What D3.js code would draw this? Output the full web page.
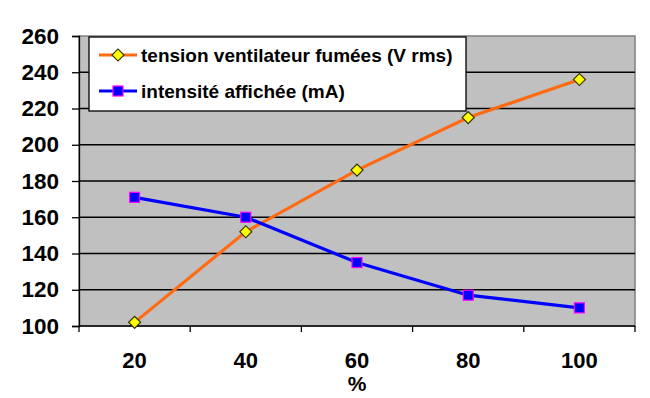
<!DOCTYPE html>
<html>
<head>
<meta charset="utf-8">
<script src="https://cdn.jsdelivr.net/npm/d3@7"></script>
<style>
  body { margin: 0; background: #fff; }
  text { font-family: "Liberation Sans", Arial, sans-serif; font-weight: bold; }
</style>
</head>
<body>
<script>
// categories and series
const categories = ["20", "40", "60", "80", "100"];
const tension = [102, 152, 186, 215, 236];
const intensite = [171, 160, 135, 117, 110];
const yTicks = [100, 120, 140, 160, 180, 200, 220, 240, 260];
const seriesNames = ["tension ventilateur fumées (V rms)", "intensité affichée (mA)"];

const W = 650, H = 398;
const margin = { top: 36, right: 15, bottom: 72, left: 79 };
const width = W - margin.left - margin.right,
  height = H - margin.top - margin.bottom;

const svg = d3.select("body").append("svg")
  .attr("width", W).attr("height", H);
const g = svg.append("g")
  .attr("transform", "translate(" + margin.left + "," + margin.top + ")");

const x = d3.scaleBand().domain(categories).range([0, width]);
const y = d3.scaleLinear().domain([100, 260]).range([height, 0]);

// plot area
g.append("rect")
  .attr("width", width).attr("height", height)
  .attr("fill", "#c0c0c0").attr("stroke", "#808080").attr("stroke-width", 1.5);

// gridlines
g.selectAll(".grid").data(yTicks.slice(1, -1)).enter().append("line")
  .attr("x1", 0).attr("x2", width)
  .attr("y1", d => y(d)).attr("y2", d => y(d))
  .attr("stroke", "#000").attr("stroke-width", 1.3);

// y axis
const yAxis = g.append("g")
  .call(d3.axisLeft(y).tickValues(yTicks).tickSize(7).tickPadding(13));
yAxis.select(".domain").attr("stroke", "#000").attr("stroke-width", 1.3);
yAxis.selectAll(".tick line").attr("stroke", "#000").attr("stroke-width", 1.3);
yAxis.selectAll("text").attr("font-size", 22.5).attr("fill", "#000")
  .attr("font-family", "Liberation Sans, Arial, sans-serif").attr("font-weight", "bold");

// x axis: ticks at band boundaries
const xAxisG = g.append("g").attr("transform", "translate(0," + height + ")");
xAxisG.append("line").attr("x1", 0).attr("x2", width)
  .attr("stroke", "#000").attr("stroke-width", 1.3);
const bounds = [0].concat(categories.map(c => x(c) + x.bandwidth()));
xAxisG.selectAll(".xt").data(bounds).enter().append("line")
  .attr("x1", d => d).attr("x2", d => d).attr("y1", 0).attr("y2", 6)
  .attr("stroke", "#000").attr("stroke-width", 1.3);
xAxisG.selectAll(".xl").data(categories).enter().append("text")
  .attr("x", d => x(d) + x.bandwidth() / 2).attr("y", 42)
  .attr("text-anchor", "middle").attr("font-size", 22).text(d => d);
svg.append("text")
  .attr("x", margin.left + width / 2).attr("y", 391)
  .attr("text-anchor", "middle").attr("font-size", 21).attr("font-weight", "normal").text("%");

const cx = c => x(c) + x.bandwidth() / 2;
const line = d3.line().x((d, i) => cx(categories[i])).y(d => y(d));

// series lines
g.append("path").datum(tension).attr("d", line)
  .attr("fill", "none").attr("stroke", "#ff6a13").attr("stroke-width", 3.2);
g.append("path").datum(intensite).attr("d", line)
  .attr("fill", "none").attr("stroke", "#0000ff").attr("stroke-width", 3.2);

function drawDiamond(sel, px, py) {
  sel.append("path").attr("d", d3.symbol().type(d3.symbolSquare).size(72)())
    .attr("transform", "translate(" + px + "," + py + ") rotate(45)")
    .attr("fill", "#ffff00").attr("stroke", "#333300").attr("stroke-width", 1.2);
}
function drawSquare(sel, px, py) {
  sel.append("rect").attr("x", px - 5).attr("y", py - 5).attr("width", 10).attr("height", 10)
    .attr("fill", "#0000ff").attr("stroke", "#ff00ff").attr("stroke-width", 1.2);
}
tension.forEach((v, i) => drawDiamond(g, cx(categories[i]), y(v)));
intensite.forEach((v, i) => drawSquare(g, cx(categories[i]), y(v)));

// legend
const lg = svg.append("g").attr("transform", "translate(89,37)");
lg.append("rect").attr("width", 377).attr("height", 74)
  .attr("fill", "#fff").attr("stroke", "#000").attr("stroke-width", 1.3);
const rows = [
  { name: seriesNames[0], color: "#ff6a13", mark: drawDiamond, ry: 18 },
  { name: seriesNames[1], color: "#0000ff", mark: drawSquare, ry: 54 }
];
rows.forEach(r => {
  lg.append("line").attr("x1", 10).attr("x2", 48).attr("y1", r.ry).attr("y2", r.ry)
    .attr("stroke", r.color).attr("stroke-width", 3.2);
  r.mark(lg, 29, r.ry);
  lg.append("text").attr("x", 52).attr("y", r.ry + 7).attr("font-size", 19).text(r.name);
});
</script>
</body>
</html>
